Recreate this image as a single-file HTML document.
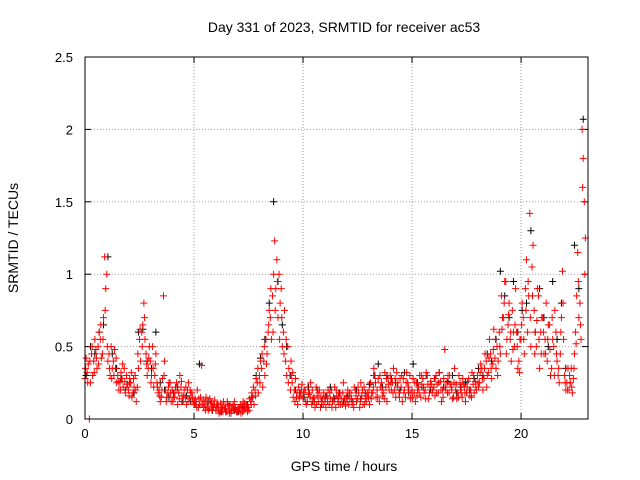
<!DOCTYPE html>
<html><head><meta charset="utf-8"><style>
html,body{margin:0;padding:0;background:#fff;}
svg{display:block;font-family:"Liberation Sans",sans-serif;}
</style></head><body>
<svg id="chart" width="640" height="480" viewBox="0 0 640 480">
<rect x="0" y="0" width="640" height="480" fill="#fff"/>
<text x="344" y="32" font-size="14" text-anchor="middle">Day 331 of 2023, SRMTID for receiver ac53</text>
<text transform="translate(18,238) rotate(-90)" font-size="14" text-anchor="middle">SRMTID / TECUs</text>
<text x="344" y="471" font-size="14" text-anchor="middle">GPS time / hours</text>
<g id="grid"></g>
<g id="ticks"></g>
<g id="black-pts"></g>
<g id="red-pts"></g>
<rect x="85" y="57" width="503" height="362" fill="none" stroke="#000" stroke-width="1"/>
</svg>
<script>
const xTicks=[0,5,10,15,20];
const yTicks=[0,0.5,1,1.5,2,2.5];
const yTickLabels=["0","0.5","1","1.5","2","2.5"];
const redStep=0.1;
const blackStep=0.2;
const redA=[.28,.32,.00,.45,.40,.48,.50,.55,.45,1.12,
1.0,.45,.50,.40,.35,.30,.25,.28,.35,.30,
.20,.25,.18,.30,.22,.55,.60,.80,.45,.35,
.40,.50,.30,.25,.20,.15,.85,.20,.18,.25,
.20,.15,.25,.18,.22,.12,.15,.20,.14,.18,
.10,.12,.08,.15,.10,.12,.09,.07,.11,.08,
.06,.10,.05,.08,.07,.05,.09,.04,.06,.08,
.05,.07,.09,.06,.10,.08,.12,.15,.20,.25,
.30,.35,.40,.55,.60,.70,.85,1.23,1.10,1.00,
.90,.60,.40,.50,.30,.25,.20,.15,.22,.18,
.15,.20,.12,.18,.10,.15,.22,.12,.08,.14,
.12,.16,.10,.20,.15,.08,.12,.18,.10,.14,
.15,.10,.18,.12,.20,.14,.08,.16,.22,.12,
.15,.25,.18,.30,.20,.12,.25,.18,.22,.28,
.30,.25,.20,.32,.18,.22,.28,.15,.25,.30,
.20,.18,.25,.22,.15,.28,.20,.30,.18,.24,
.22,.30,.18,.26,.20,.48,.25,.18,.22,.15,
.20,.18,.25,.15,.22,.18,.28,.20,.24,.26,
.30,.25,.35,.28,.40,.32,.45,.38,.42,.50,
.60,.85,.70,.95,.65,.55,.75,.50,.60,.40,
.55,.70,.90,.60,1.42,1.05,.75,.50,.85,.60,
.70,.55,.40,.65,.35,.50,.60,.30,.45,1.02,
.30,.25,.20,.35,.28,.60,1.15,.80,2.0,1.50];
const redB=[.42,.38,.25,.30,.55,.35,.60,.42,.70,.90,
.40,.30,.35,.48,.25,.20,.32,.22,.18,.24,
.28,.15,.22,.12,.35,.40,.65,.55,.30,.50,
.30,.22,.45,.18,.12,.28,.40,.15,.25,.12,
.15,.22,.10,.30,.16,.20,.10,.25,.18,.12,
.14,.20,.10,.37,.08,.15,.06,.12,.09,.13,
.10,.04,.08,.12,.05,.10,.06,.09,.12,.05,
.08,.04,.12,.07,.05,.14,.18,.10,.28,.18,
.40,.22,.30,.45,.75,.55,1.00,.90,.70,.80,
.50,.75,.30,.35,.40,.15,.28,.10,.16,.24,
.20,.10,.17,.25,.14,.08,.16,.20,.12,.18,
.08,.20,.14,.12,.22,.16,.10,.14,.25,.09,
.20,.14,.10,.22,.12,.18,.25,.10,.14,.18,
.10,.18,.35,.15,.28,.22,.16,.32,.12,.20,
.20,.35,.15,.25,.28,.12,.20,.32,.22,.18,
.28,.12,.20,.30,.24,.18,.32,.14,.26,.20,
.16,.24,.32,.12,.28,.20,.30,.24,.14,.35,
.14,.30,.18,.24,.12,.26,.16,.32,.18,.20,
.22,.38,.20,.45,.30,.55,.28,.62,.35,.40,
.45,.70,.95,.55,.80,.40,.60,.90,.35,.55,
.80,.45,1.10,.85,.50,1.20,.60,.90,.35,.70,
.45,.80,.65,.30,.55,.75,.40,.25,.70,.55,
.20,.35,.25,.18,.45,.85,.70,.55,1.80,1.25];
const redC=[.35,.25,.40,.50,.32,.42,.38,.65,.55,.75,
.50,.35,.28,.30,.42,.26,.20,.38,.26,.22,
.16,.32,.28,.20,.45,.62,.50,.70,.38,.42,
.25,.35,.38,.22,.16,.20,.30,.12,.22,.18,
.12,.18,.20,.14,.26,.16,.22,.12,.20,.15,
.12,.08,.14,.10,.13,.06,.11,.14,.06,.10,
.08,.07,.11,.05,.09,.12,.04,.07,.10,.06,
.07,.10,.05,.11,.08,.06,.10,.22,.16,.35,
.25,.45,.50,.38,.65,.90,.60,.75,.95,.55,
.70,.45,.55,.25,.20,.32,.12,.18,.14,.20,
.18,.12,.22,.15,.20,.12,.10,.18,.15,.10,
.15,.12,.18,.08,.12,.20,.15,.10,.18,.12,
.12,.18,.14,.08,.16,.22,.12,.20,.10,.16,
.20,.14,.22,.25,.15,.30,.20,.14,.28,.24,
.25,.18,.28,.22,.15,.30,.18,.25,.20,.14,
.15,.25,.16,.18,.30,.22,.14,.24,.22,.18,
.28,.18,.25,.20,.15,.22,.18,.30,.20,.25,
.24,.15,.20,.28,.18,.22,.20,.15,.30,.22,
.25,.32,.28,.35,.22,.42,.35,.48,.55,.30,
.50,.62,.80,.45,.72,.60,.48,.65,.50,.32,
.65,.55,.75,.95,.70,.85,.45,.68,.55,.45,
.60,.45,.55,.48,.70,.30,.45,.35,.60,.80,
.25,.20,.30,.22,.35,.52,.95,.65,1.60,1.00];
const blackVals=[.30,.50,.45,.60,.65,1.12,.45,.35,.28,.20,.25,.18,
.60,.62,.40,.35,.60,.25,.20,.15,.18,.22,.12,.16,
.12,.10,.38,.08,.12,.06,.10,.05,.07,.09,.06,.05,
.08,.10,.15,.30,.42,.55,.80,1.50,.95,.65,.50,.30,
.20,.18,.15,.22,.12,.20,.10,.16,.22,.14,.18,.12,
.16,.12,.20,.14,.18,.24,.30,.38,.22,.30,.28,.25,
.20,.32,.18,.38,.25,.22,.30,.20,.28,.32,.22,.26,
.30,.18,.22,.25,.20,.28,.35,.30,.45,.40,.55,1.02,
.85,.70,.95,.60,.75,.80,1.30,.60,.90,.70,.50,.95,
.55,.80,.35,.25,1.20,.90,2.07];

const X0=85,X1=588,Y0=419,Y1=57,XMAX=23.07,YMAX=2.5;
const xs=v=>X0+(X1-X0)*v/XMAX;
const ys=v=>Y0-(Y0-Y1)*v/YMAX;
const NS="http://www.w3.org/2000/svg";
function mk(tag,attrs,parent){const e=document.createElementNS(NS,tag);for(const k in attrs)e.setAttribute(k,attrs[k]);parent.appendChild(e);return e;}
const grid=document.getElementById('grid'),ticks=document.getElementById('ticks');
xTicks.forEach(t=>{const x=xs(t);
 if(t>0){const g=mk('line',{x1:x,y1:Y0,x2:x,y2:Y1,stroke:'#a0a0a0','stroke-dasharray':'1,2'},grid);
 }
 mk('line',{x1:x,y1:Y0,x2:x,y2:Y0-6,stroke:'#000'},ticks);
 mk('line',{x1:x,y1:Y1,x2:x,y2:Y1+6,stroke:'#000'},ticks);
 const l=mk('text',{x:x,y:Y0+19,'font-size':'13','text-anchor':'middle'},ticks);l.textContent=t;
 });
yTicks.forEach((t,i)=>{const y=ys(t);
 if(t>0&&t<YMAX){const g=mk('line',{x1:X0,y1:y,x2:X1,y2:y,stroke:'#a0a0a0','stroke-dasharray':'1,2'},grid);
 }
 mk('line',{x1:X0,y1:y,x2:X0+6,y2:y,stroke:'#000'},ticks);
 mk('line',{x1:X1,y1:y,x2:X1-6,y2:y,stroke:'#000'},ticks);
 const l=mk('text',{x:X0-12,y:y+5,'font-size':'13','text-anchor':'end'},ticks);l.textContent=yTickLabels[i];
 });
function plus(g,x,y,c){const p=mk('path',{d:`M${x-3.5},${y}h7M${x},${y-3.5}v7`,stroke:c,'stroke-width':'1',fill:'none'},g);
 }
const bg=document.getElementById('black-pts'),rg=document.getElementById('red-pts');
blackVals.forEach((v,i)=>plus(bg,xs(i*blackStep+0.05),ys(v),'#000'));
redA.forEach((v,i)=>plus(rg,xs(i*redStep),ys(v),'#ff0000'));
redB.forEach((v,i)=>plus(rg,xs(i*redStep+0.05),ys(v),'#ff0000'));
redC.forEach((v,i)=>plus(rg,xs(i*redStep+0.025),ys(v),'#ff0000'));
</script>
</body></html>
